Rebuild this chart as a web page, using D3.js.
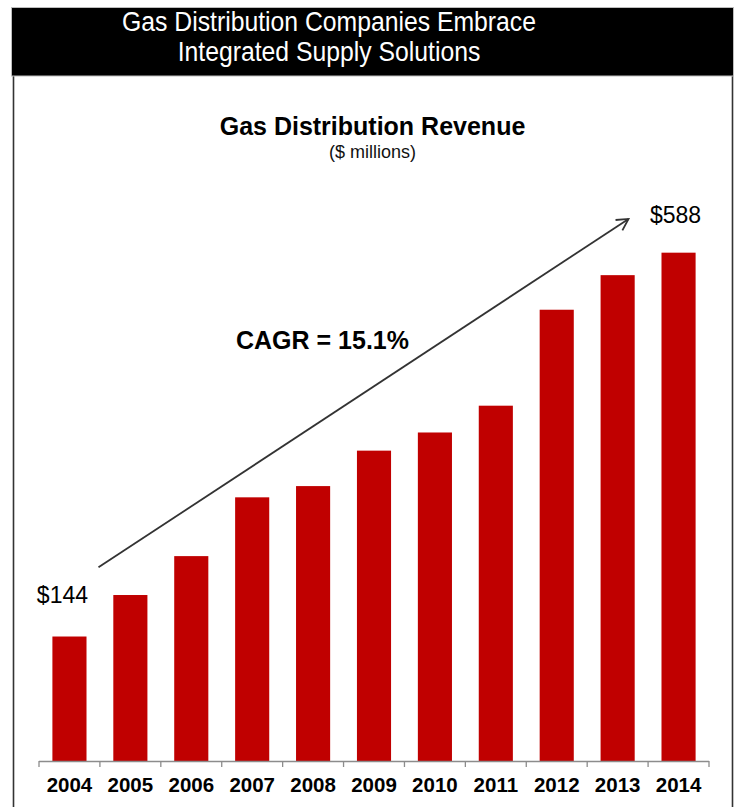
<!DOCTYPE html>
<html>
<head>
<meta charset="utf-8">
<script src="https://cdn.jsdelivr.net/npm/d3@7/dist/d3.min.js"></script>
<style>
  html, body { margin: 0; padding: 0; background: #ffffff; }
  svg { display: block; }
</style>
</head>
<body>
<svg id="chart" width="737" height="807"></svg>
<script>
// Revenue by year, $ millions
const years = ["2004", "2005", "2006", "2007", "2008", "2009", "2010", "2011", "2012", "2013", "2014"];
const revenue = [144, 192, 237, 305, 318, 359, 380, 411, 522, 562, 588];

const headerLines = ["Gas Distribution Companies Embrace", "Integrated Supply Solutions"];
const chartTitle = "Gas Distribution Revenue";
const chartSubtitle = "($ millions)";
const growthLabel = "CAGR = 15.1%";
// Trend arrow runs between these two values
const arrowValues = [224, 627];

const data = years.map((y, i) => ({ year: y, value: revenue[i] }));

const svg = d3.select("#chart");
const W = 737, H = 807;

// Panel frame
svg.append("rect").attr("x", 0).attr("y", 0).attr("width", W).attr("height", H).attr("fill", "#ffffff");
svg.append("line").attr("x1", 13.5).attr("x2", 13.5).attr("y1", 76).attr("y2", H)
  .attr("stroke", "#333").attr("stroke-width", 1.6);
svg.append("line").attr("x1", 732.5).attr("x2", 732.5).attr("y1", 76).attr("y2", H)
  .attr("stroke", "#333").attr("stroke-width", 1.6);

// Header band, text slightly condensed
svg.append("rect").attr("x", 11.5).attr("y", 7.5).attr("width", 722).attr("height", 68.5)
  .attr("fill", "#000").attr("stroke", "#bdbdbd").attr("stroke-width", 1);
const headerCx = 329;
svg.append("g").attr("transform", `translate(${headerCx},0) scale(0.9,1)`)
  .selectAll("text").data(headerLines).join("text")
  .attr("x", 0).attr("y", (d, i) => 31 + i * 30)
  .attr("text-anchor", "middle")
  .attr("fill", "#fff")
  .attr("font-family", "'Liberation Sans', Arial, sans-serif")
  .attr("font-size", 27.5)
  .text(d => d);

// Scales
const x = d3.scaleBand().domain(years).range([39, 709]).paddingInner(0.44).paddingOuter(0.22);
const y = d3.scaleLinear().domain([0, 700]).range([761, 155.85]);

// Titles
svg.append("text").attr("x", 372.5).attr("y", 135)
  .attr("text-anchor", "middle").attr("font-family", "'Liberation Sans', Arial, sans-serif")
  .attr("font-weight", "bold").attr("font-size", 25).attr("fill", "#000")
  .text(chartTitle);
svg.append("text").attr("x", 372.5).attr("y", 158)
  .attr("text-anchor", "middle").attr("font-family", "'Liberation Sans', Arial, sans-serif")
  .attr("font-size", 18).attr("fill", "#111")
  .text(chartSubtitle);

// Bars
svg.append("g").selectAll("rect").data(data).join("rect")
  .attr("x", d => x(d.year))
  .attr("y", d => y(d.value))
  .attr("width", x.bandwidth())
  .attr("height", d => y(0) - y(d.value))
  .attr("fill", "#c00000");

// Category axis: labels from d3.axisBottom, tick marks at band boundaries
const axis = svg.append("g").attr("transform", `translate(0,${y(0)})`)
  .call(d3.axisBottom(x).tickSize(0).tickPadding(16));
axis.select(".domain").remove();
axis.selectAll("text")
  .attr("font-family", "'Liberation Sans', Arial, sans-serif")
  .attr("font-weight", "bold").attr("font-size", 20.5).attr("fill", "#000");

const step = x.step();
const bounds = years.map(yr => x(yr) - step * x.paddingInner() / 2).concat([x(years[years.length - 1]) + x.bandwidth() + step * x.paddingInner() / 2]);
const axisG = svg.append("g").attr("stroke", "#8c8c8c").attr("stroke-width", 1.3);
axisG.append("line").attr("x1", bounds[0]).attr("x2", bounds[bounds.length - 1])
  .attr("y1", y(0) + 0.5).attr("y2", y(0) + 0.5);
axisG.selectAll("line.tick").data(bounds).join("line").attr("class", "tick")
  .attr("x1", d => d).attr("x2", d => d)
  .attr("y1", y(0)).attr("y2", y(0) + 6);

// Endpoint value labels
const first = data[0], last = data[data.length - 1];
const labelFont = "'Liberation Sans', Arial, sans-serif";
svg.append("text").attr("x", x(first.year) + x.bandwidth() / 2 - 7).attr("y", y(first.value) - 34)
  .attr("text-anchor", "middle").attr("font-family", labelFont).attr("font-size", 23).attr("fill", "#000")
  .text("$" + first.value);
svg.append("text").attr("x", x(last.year) + x.bandwidth() / 2 - 3).attr("y", y(last.value) - 30)
  .attr("text-anchor", "middle").attr("font-family", labelFont).attr("font-size", 23).attr("fill", "#000")
  .text("$" + last.value);

// Growth arrow
const ax1 = x(first.year) + x.bandwidth() + 12;
const ax2 = x(last.year) - 33;
const ay1 = y(arrowValues[0]), ay2 = y(arrowValues[1]);
svg.append("line").attr("x1", ax1).attr("y1", ay1).attr("x2", ax2).attr("y2", ay2)
  .attr("stroke", "#333").attr("stroke-width", 1.8);
const ang = Math.atan2(ay2 - ay1, ax2 - ax1);
const head = 13, spread = 0.5;
const p1 = [ax2 - head * Math.cos(ang - spread), ay2 - head * Math.sin(ang - spread)];
const p2 = [ax2 - head * Math.cos(ang + spread), ay2 - head * Math.sin(ang + spread)];
svg.append("path").attr("d", d3.line()([p1, [ax2, ay2], p2]))
  .attr("fill", "none").attr("stroke", "#333").attr("stroke-width", 1.8);

svg.append("text").attr("x", 236).attr("y", 349)
  .attr("font-family", labelFont).attr("font-weight", "bold").attr("font-size", 25).attr("fill", "#000")
  .text(growthLabel);
</script>
</body>
</html>
